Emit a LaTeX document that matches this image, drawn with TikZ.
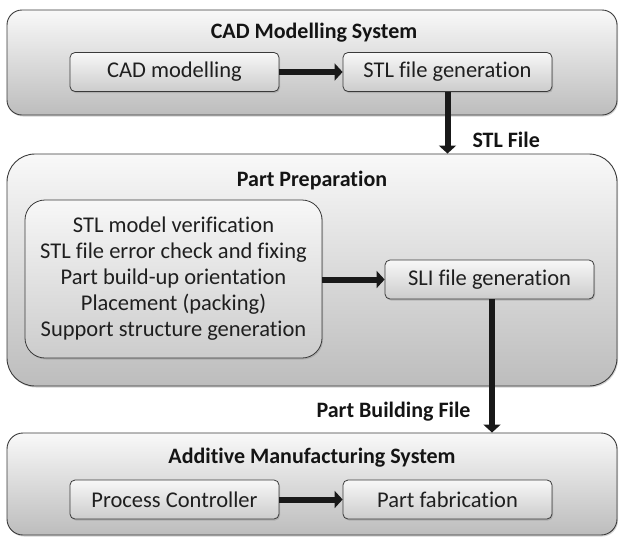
\documentclass[tikz,border=0pt]{standalone}
\usepackage{fontspec}
\setmainfont[Ligatures=NoCommon]{Carlito}
\usetikzlibrary{arrows.meta,shadows}
\definecolor{edge}{HTML}{3A3A3A}
\tikzset{
  outerbox/.style={draw=edge, line width=0.9pt, rounded corners=#1,
    top color=white!95!gray, bottom color=black!26,
    drop shadow={opacity=0.35, shadow xshift=1pt, shadow yshift=-1.5pt}},
  innerbox/.style={draw=edge, line width=0.8pt, rounded corners=5pt,
    top color=black!3, bottom color=black!20,
    drop shadow={opacity=0.35, shadow xshift=1pt, shadow yshift=-1.5pt},
    minimum width=209pt, minimum height=39pt, inner sep=0pt,
    font=\fontsize{22.5}{26}\selectfont, text=black!88},
  title/.style={font=\bfseries\fontsize{22}{26}\selectfont, text=black!92},
  flowarrow/.style={line width=6pt, black!90,
    -{Triangle[length=8pt,width=17pt]}},
}
\begin{document}
\begin{tikzpicture}[x=1pt,y=-1pt]
\useasboundingbox (0,0) rectangle (619,536);
% outer containers
\node[outerbox=15pt, minimum width=610pt, minimum height=105pt, inner sep=0pt] (cad) at (312,62.5) {};
\node[outerbox=28pt, minimum width=610pt, minimum height=232pt, inner sep=0pt] (prep) at (312,270) {};
\node[outerbox=16pt, minimum width=610pt, minimum height=102pt, inner sep=0pt] (am) at (312,484) {};
% titles
\node[title] (t1) at (314,33) {CAD Modelling System};
\node[title] (t2) at (312,181) {Part Preparation};
\node[title] (t3) at (312,458) {Additive Manufacturing System};
% inner boxes
\node[innerbox] (cadm) at (174.5,72) {CAD modelling};
\node[innerbox] (stl) at (447.5,72) {STL file generation};
\node[innerbox, rounded corners=20pt, minimum width=297pt, minimum height=158pt, align=center,
  font=\fontsize{22.5}{26}\selectfont] (list) at (173.5,279)
  {STL model verification\\STL file error check and fixing\\Part build-up orientation\\Placement (packing)\\Support structure generation};
\node[innerbox] (sli) at (489.5,279.5) {SLI file generation};
\node[innerbox] (proc) at (174.5,499.5) {Process Controller};
\node[innerbox] (fab) at (447.5,499.5) {Part fabrication};
% connectors
\coordinate (dx) at (492,0);
\draw[flowarrow] (cadm.east) -- (stl.west);
\draw[flowarrow] (list.east |- sli.west) -- (sli.west);
\draw[flowarrow] (proc.east) -- (fab.west);
\draw[flowarrow] (stl.south) -- (stl.south |- prep.north);
\draw[flowarrow] (dx |- sli.south) -- (dx |- am.north);
% connector labels
\node[title, anchor=west] (l1) at (469,140) {STL File};
\node[title, anchor=east] (l2) at (474,412) {Part Building File};
\end{tikzpicture}
\end{document}
